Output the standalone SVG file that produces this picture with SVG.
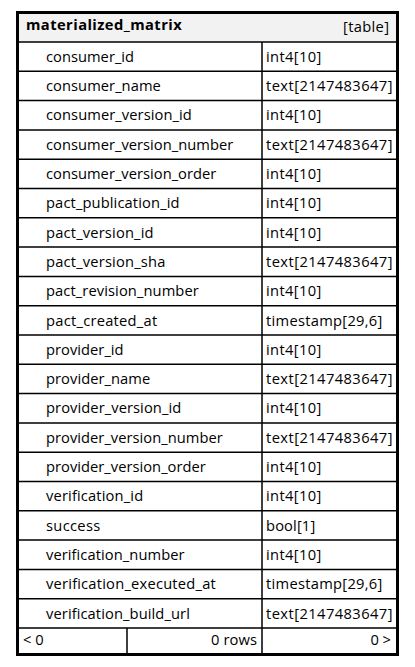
<svg xmlns="http://www.w3.org/2000/svg" width="415" height="667" viewBox="0 0 415 667">
<style>
text{font-family:"Open Sans","Noto Sans","DejaVu Sans",sans-serif;font-size:14.7px;fill:#000}
.b{font-weight:bold}
.e{text-anchor:end}
.l{stroke:#000;stroke-width:1.5;fill:none}
</style>
<rect width="415" height="667" fill="#fff"/>
<g id="table">
<rect x="17.5" y="12.5" width="380" height="642" fill="#fff" stroke="#000" stroke-width="3"/>
<rect x="19" y="14" width="377" height="28" fill="#f2f2f2"/>
<text class="b" x="26" y="30" textLength="155.7">materialized_matrix</text>
<text class="e" x="389" y="32" textLength="45.9">[table]</text>
</g>
<g id="grid" class="l">
<path d="M19 42H396M19 71.3H396M19 100.6H396M19 129.9H396M19 159.2H396M19 188.5H396M19 217.8H396M19 247.1H396M19 276.4H396M19 305.7H396M19 335H396M19 364.3H396M19 393.6H396M19 422.9H396M19 452.2H396M19 481.5H396M19 510.8H396M19 540.1H396M19 569.4H396M19 598.7H396M19 628H396"/>
<path d="M262 42V654M127 628V654"/>
</g>
<g id="rows">
<text x="46" y="62" textLength="88.1">consumer_id</text><text x="266" y="62" textLength="55.3">int4[10]</text>
<text x="46" y="91" textLength="114.8">consumer_name</text><text x="266" y="91" textLength="126.5">text[2147483647]</text>
<text x="46" y="120" textLength="145.8">consumer_version_id</text><text x="266" y="120" textLength="55.3">int4[10]</text>
<text x="46" y="150" textLength="187.2">consumer_version_number</text><text x="266" y="150" textLength="126.5">text[2147483647]</text>
<text x="46" y="179" textLength="170.3">consumer_version_order</text><text x="266" y="179" textLength="55.3">int4[10]</text>
<text x="46" y="208" textLength="133.5">pact_publication_id</text><text x="266" y="208" textLength="55.3">int4[10]</text>
<text x="46" y="238" textLength="107.6">pact_version_id</text><text x="266" y="238" textLength="55.3">int4[10]</text>
<text x="46" y="267" textLength="119.4">pact_version_sha</text><text x="266" y="267" textLength="126.5">text[2147483647]</text>
<text x="46" y="296" textLength="152.8">pact_revision_number</text><text x="266" y="296" textLength="55.3">int4[10]</text>
<text x="46" y="326" textLength="111.2">pact_created_at</text><text x="266" y="326" textLength="116.3">timestamp[29,6]</text>
<text x="46" y="355" textLength="77.6">provider_id</text><text x="266" y="355" textLength="55.3">int4[10]</text>
<text x="46" y="384" textLength="104.2">provider_name</text><text x="266" y="384" textLength="126.5">text[2147483647]</text>
<text x="46" y="413" textLength="135.2">provider_version_id</text><text x="266" y="413" textLength="55.3">int4[10]</text>
<text x="46" y="443" textLength="176.7">provider_version_number</text><text x="266" y="443" textLength="126.5">text[2147483647]</text>
<text x="46" y="472" textLength="159.8">provider_version_order</text><text x="266" y="472" textLength="55.3">int4[10]</text>
<text x="46" y="501" textLength="97.2">verification_id</text><text x="266" y="501" textLength="55.3">int4[10]</text>
<text x="46" y="531" textLength="54.2">success</text><text x="266" y="531" textLength="49.2">bool[1]</text>
<text x="46" y="560" textLength="138.6">verification_number</text><text x="266" y="560" textLength="55.3">int4[10]</text>
<text x="46" y="589" textLength="169.8">verification_executed_at</text><text x="266" y="589" textLength="116.3">timestamp[29,6]</text>
<text x="46" y="619" textLength="143.9">verification_build_url</text><text x="266" y="619" textLength="126.5">text[2147483647]</text>
</g>
<g id="footer">
<text x="23" y="645">&lt; 0</text>
<text class="e" x="257" y="645" textLength="45.9">0 rows</text>
<text class="e" x="391" y="645">0 &gt;</text>
</g>
</svg>
